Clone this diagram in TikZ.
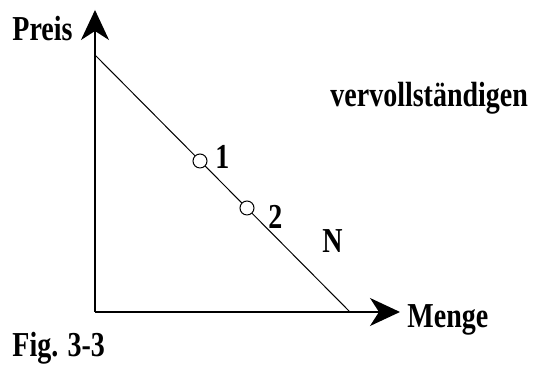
\documentclass[tikz,border=0pt]{standalone}
\usepackage{fontspec}
\setmainfont{Liberation Serif}
\usepackage{graphicx}
\usepackage{tikz}
\usetikzlibrary{arrows.meta, positioning}
\newcommand{\tallbf}[1]{\scalebox{1}[1.25]{#1}}

\begin{document}
\begin{tikzpicture}[x=0.5pt, y=0.5pt, >={Stealth[length=15pt, width=14pt, inset=4.5pt]},
    lbl/.style={inner sep=0pt, anchor=base west, font=\fontsize{14}{16}\selectfont\bfseries},
    mark point/.style={draw, circle, minimum size=7pt, inner sep=0pt, line width=0.5pt}]
        % Nachfragekurve mit zwei Punkten
        \useasboundingbox (0,0) rectangle (538,368);
        \coordinate (origin) at (95,56);
        \coordinate (ytip) at (95,358);
        \coordinate (xtip) at (400,56);
        \coordinate (nstart) at (95,313);
        \coordinate (nend) at (350,56);
        
        \draw[->, line width=0.8pt] (origin) -- (ytip);
        \draw[->, line width=0.8pt] (origin) -- (xtip);
        \draw[line width=0.5pt] (nstart) -- (nend);
        
        \node[mark point, fill=white] (p1) at (200,207) {};
        \node[mark point, fill=white] (p2) at (247,160) {};
        
        \node[lbl] (preis) at (12,327) {\tallbf{Preis}};
        \node[lbl] (menge) at (407,40) {\tallbf{Menge}};
        \node[lbl] (one) at (215,199) {\tallbf{1}};
        \node[lbl] (two) at (268,139) {\tallbf{2}};
        \node[lbl] (nlabel) at (322,115) {\tallbf{N}};
        \node[lbl] (task) at (330,261) {\tallbf{vervollständigen}};
        \node[lbl] (caption) at (12,11) {\tallbf{Fig. 3-3}};
    \end{tikzpicture}
\end{document}
